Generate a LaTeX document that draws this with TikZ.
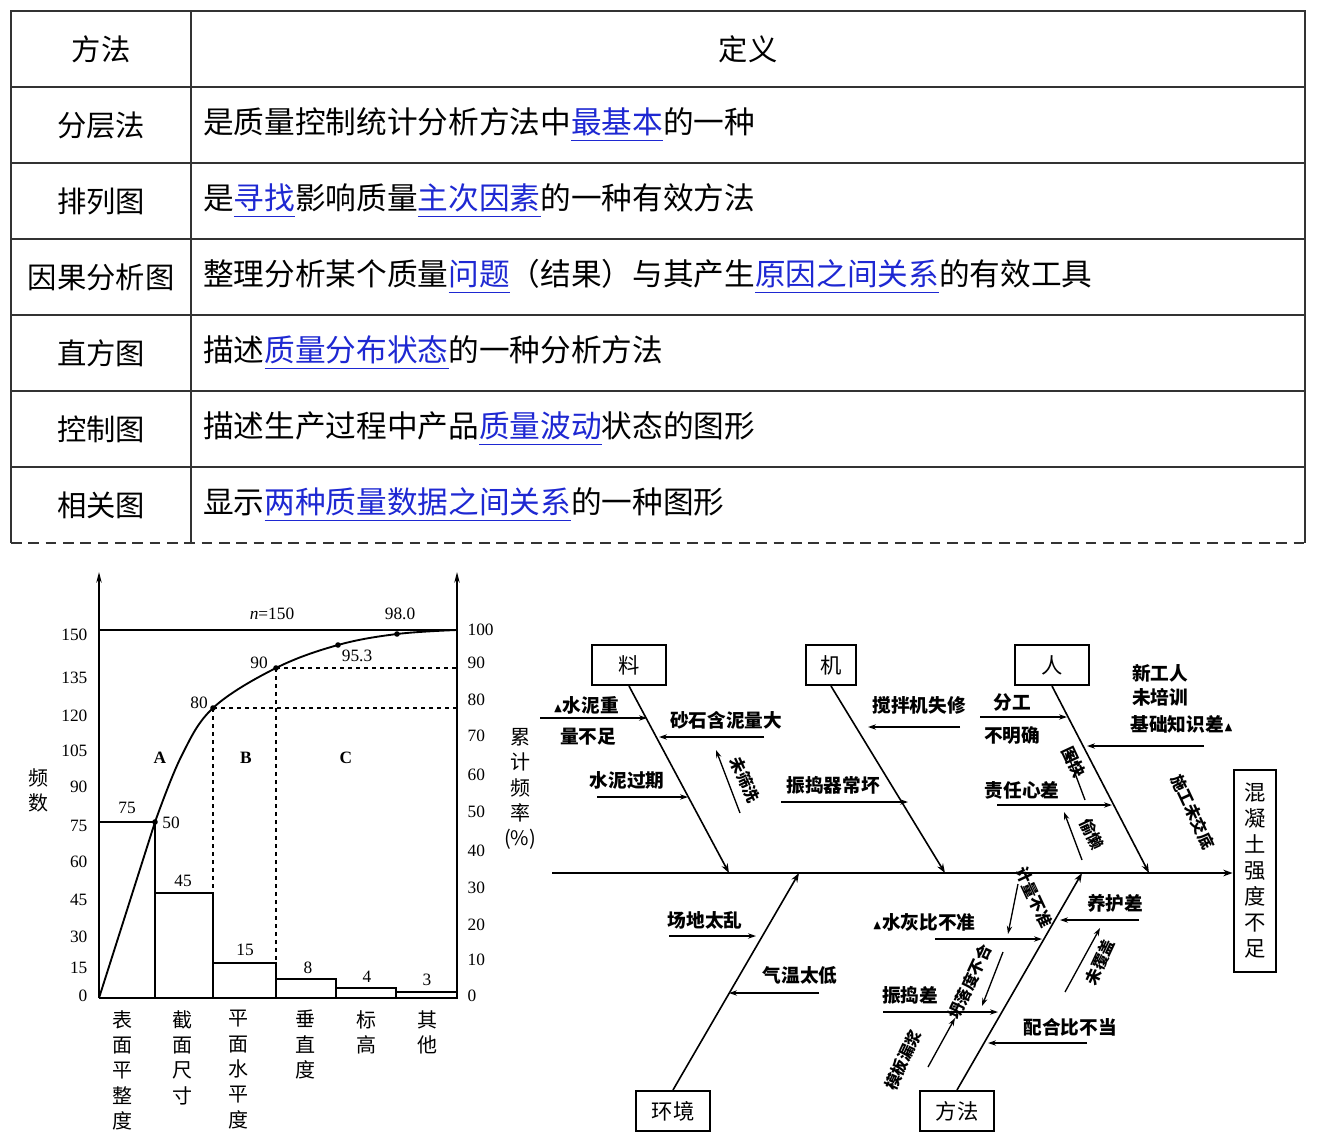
\documentclass[tikz,border=0pt]{standalone}
\usepackage{amssymb}
\usepackage{fontspec}
\setmainfont{Noto Sans CJK SC}
\newfontfamily\numf{Liberation Serif}
\usetikzlibrary{arrows.meta}
\definecolor{lk}{RGB}{30,40,210}
\newcommand{\lnk}[1]{\textcolor{lk}{\underline{#1}}}
\begin{document}
\begin{tikzpicture}[x=0.75pt,y=-0.75pt,
  tl/.style={line width=1.1pt,draw=black!80},
  cell/.style={font=\fontsize{23}{26}\selectfont,anchor=west,inner sep=0},
  hd/.style={font=\fontsize{22}{26}\selectfont,inner sep=0},
  num/.style={font=\numf\fontsize{13}{14}\selectfont,inner sep=1pt},
  cat/.style={font=\fontsize{15}{19}\selectfont,align=center,anchor=north,inner sep=0},
  fb/.style={font=\bfseries\fontsize{14}{17}\selectfont,inner sep=1pt},
  rfb/.style={font=\bfseries\fontsize{12}{14}\selectfont,inner sep=0pt},
  box/.style={draw,line width=1.6pt,minimum width=56pt,minimum height=30pt,font=\fontsize{16}{18}\selectfont},
  bone/.style={line width=1.2pt,-{Stealth[length=7pt,width=5pt]}},
  sub/.style={line width=1pt,-{Stealth[length=6pt,width=4pt]}}]
\useasboundingbox (0,0) rectangle (1330,1144);
% ===== table =====
\draw[tl] (11,543) -- (11,11) -- (1305,11) -- (1305,543);
\foreach \y in {87,163,239,315,391,467} \draw[tl] (11,\y) -- (1305,\y);
\draw[tl] (191,11) -- (191,543);
\draw[tl,dashed,dash pattern=on 8pt off 5pt] (11,543) -- (1305,543);
\node[hd] (h1) at (101,49) {方法};
\node[hd] (h2) at (748,49) {定义};
\node[hd] (m1) at (101,125) {分层法};
\node[hd] (m2) at (101,201) {排列图};
\node[hd] (m3) at (101,277) {因果分析图};
\node[hd] (m4) at (101,353) {直方图};
\node[hd] (m5) at (101,429) {控制图};
\node[hd] (m6) at (101,505) {相关图};
\node[cell] (d1) at (203,125) {是质量控制统计分析方法中\lnk{最基本}的一种};
\node[cell] (d2) at (203,201) {是\lnk{寻找}影响质量\lnk{主次因素}的一种有效方法};
\node[cell] (d3) at (203,277) {整理分析某个质量\lnk{问题}（结果）与其产生\lnk{原因之间关系}的有效工具};
\node[cell] (d4) at (203,353) {描述\lnk{质量分布状态}的一种分析方法};
\node[cell] (d5) at (203,429) {描述生产过程中产品\lnk{质量波动}状态的图形};
\node[cell] (d6) at (203,505) {显示\lnk{两种质量数据之间关系}的一种图形};
% ===== pareto =====
\draw[line width=1.2pt,-{Stealth[length=8pt,width=4pt]}] (99,998) -- (99,572);
\draw[line width=1.2pt,-{Stealth[length=8pt,width=4pt]}] (457,998) -- (457,572);
\draw[line width=1.2pt] (99,998) -- (457,998);
\draw[line width=1.1pt] (99,630) -- (457,630);
\draw[line width=1.2pt] (99,822) -- (155,822) -- (155,998);
\draw[line width=1.2pt] (155,893) rectangle (213,998);
\draw[line width=1.2pt] (213,963) rectangle (276,998);
\draw[line width=1.2pt] (276,979) rectangle (336,998);
\draw[line width=1.2pt] (336,988) rectangle (396,998);
\draw[line width=1.2pt] (396,992) rectangle (457,998);
\draw[dashed,line width=0.9pt] (213,708) -- (213,893) (213,708) -- (457,708);
\draw[dashed,line width=0.9pt] (276,668) -- (276,963) (276,668) -- (457,668);
\draw[line width=1.4pt] (99,998) -- (155,822);
\draw[line width=1.4pt] plot[smooth,tension=0.6] coordinates {(155,822) (181,757) (213,708) (276,668) (338,645) (397,634) (457,630)};
\foreach \p in {(155,822),(213,708),(276,668),(338,645),(397,634)} \fill \p circle (2.8);
\foreach \v/\y in {150/635,135/678,120/716,105/751,90/787,75/826,60/862,45/900,30/937,15/968,0/996}
  \node[num,anchor=east] at (89,\y) {\v};
\foreach \v/\y in {100/630,90/663,80/700,70/736,60/775,50/812,40/851,30/888,20/925,10/960,0/996}
  \node[num,anchor=west] at (466,\y) {\v};
\node[num] at (127,808) {75};
\node[num] at (171,823) {50};
\node[num] at (183,881) {45};
\node[num] at (245,950) {15};
\node[num] at (308,968) {8};
\node[num] at (367,977) {4};
\node[num] at (427,980) {3};
\node[num,font=\numf\bfseries\fontsize{13}{14}\selectfont] at (160,758) {A};
\node[num,font=\numf\bfseries\fontsize{13}{14}\selectfont] at (246,758) {B};
\node[num,font=\numf\bfseries\fontsize{13}{14}\selectfont] at (346,758) {C};
\node[num] at (272,614) {\textit{n}=150};
\node[num] at (400,614) {98.0};
\node[num] at (357,656) {95.3};
\node[num] at (259,663) {90};
\node[num] at (199,703) {80};
\node[cat] at (38,768) {频\\数};
\node[cat] at (520,728) {累\\计\\频\\率\\(\%)};
\node[cat] at (122,1010) {表\\面\\平\\整\\度};
\node[cat] at (182,1010) {截\\面\\尺\\寸};
\node[cat] at (238,1010) {平\\面\\水\\平\\度};
\node[cat] at (305,1010) {垂\\直\\度};
\node[cat] at (366,1010) {标\\高};
\node[cat] at (427,1010) {其\\他};
% ===== fishbone =====
\node[draw,line width=1.6pt,minimum width=32pt,minimum height=152pt,align=center,font=\fontsize{16}{19.5}\selectfont] (eff) at (1255,871) {混\\凝\\土\\强\\度\\不\\足};
\coordinate (s0) at (552,873);
\draw[bone] (s0) -- (eff.west|-s0);
\node[box] (liao) at (629,665) {料};
\node[box,minimum width=38pt] (ji) at (831,665) {机};
\node[box] (ren) at (1052,665) {人};
\node[box] (hj) at (673,1111) {环境};
\node[box] (ff) at (957,1111) {方法};
\coordinate (b1) at (729,873); \coordinate (b2) at (945,873);
\coordinate (b3) at (1149,873); \coordinate (b4) at (799,873); \coordinate (b5) at (1082,873);
\draw[bone] (liao.south) -- (b1);
\draw[bone] (ji.south) -- (b2);
\draw[bone] (ren.south) -- (b3);
\draw[bone] (hj.north) -- (b4);
\draw[bone] (ff.north) -- (b5);
% 料
\node[fb] at (586,705) {$\scriptstyle\blacktriangle$水泥重};
\node[fb] at (588,737) {量不足};
\draw[sub] (540,718) -- (647,718);
\node[fb] at (726,720) {砂石含泥量大};
\draw[sub] (764,737) -- (659,737);
\node[rfb,rotate=-65] at (745,780) {未筛洗};
\draw[sub] (740,813) -- (716,750);
\node[fb] at (627,780) {水泥过期};
\draw[sub] (597,797) -- (688,797);
% 机
\node[fb] at (919,705) {搅拌机失修};
\draw[sub] (960,727) -- (868,727);
\node[fb] at (833,785) {振捣器常坏};
\draw[sub] (781,802) -- (908,802);
% 人
\node[fb] at (1012,702) {分工};
\node[fb] at (1012,735) {不明确};
\draw[sub] (980,717) -- (1067,717);
\node[fb] at (1160,673) {新工人};
\node[fb] at (1160,697) {未培训};
\node[fb] at (1182,724) {基础知识差$\scriptstyle\blacktriangle$};
\draw[sub] (1204,746) -- (1087,746);
\node[rfb,rotate=-65] at (1193,812) {施工未交底};
\node[rfb,rotate=-65] at (1074,762) {图快};
\draw[sub] (1085,800) -- (1067,752);
\node[fb] at (1022,790) {责任心差};
\draw[sub] (997,805) -- (1112,805);
\node[rfb,rotate=-65] at (1092,834) {偷懒};
\draw[sub] (1082,860) -- (1064,812);
% 环境
\node[fb] at (705,920) {场地太乱};
\draw[sub] (669,936) -- (756,936);
\node[fb] at (800,975) {气温太低};
\draw[sub] (819,993) -- (729,993);
% 方法
\node[fb] at (924,922) {$\scriptstyle\blacktriangle$水灰比不准};
\draw[sub] (935,939) -- (1042,939);
\node[rfb,rotate=-65] at (1034,897) {计量不准};
\draw[sub] (1018,884) -- (1008,934);
\node[fb] at (1115,903) {养护差};
\draw[sub] (1139,920) -- (1060,920);
\node[rfb,rotate=65] at (1100,962) {未覆盖};
\draw[sub] (1065,992) -- (1100,928);
\node[rfb,rotate=65] at (970,982) {坍落度不合};
\draw[sub] (1003,952) -- (982,1006);
\node[fb] at (910,995) {振捣差};
\draw[sub] (883,1012) -- (998,1012);
\node[rfb,rotate=65] at (903,1060) {模板漏浆};
\draw[sub] (928,1067) -- (955,1018);
\node[fb] at (1070,1027) {配合比不当};
\draw[sub] (1087,1043) -- (988,1043);
\end{tikzpicture}
\end{document}
